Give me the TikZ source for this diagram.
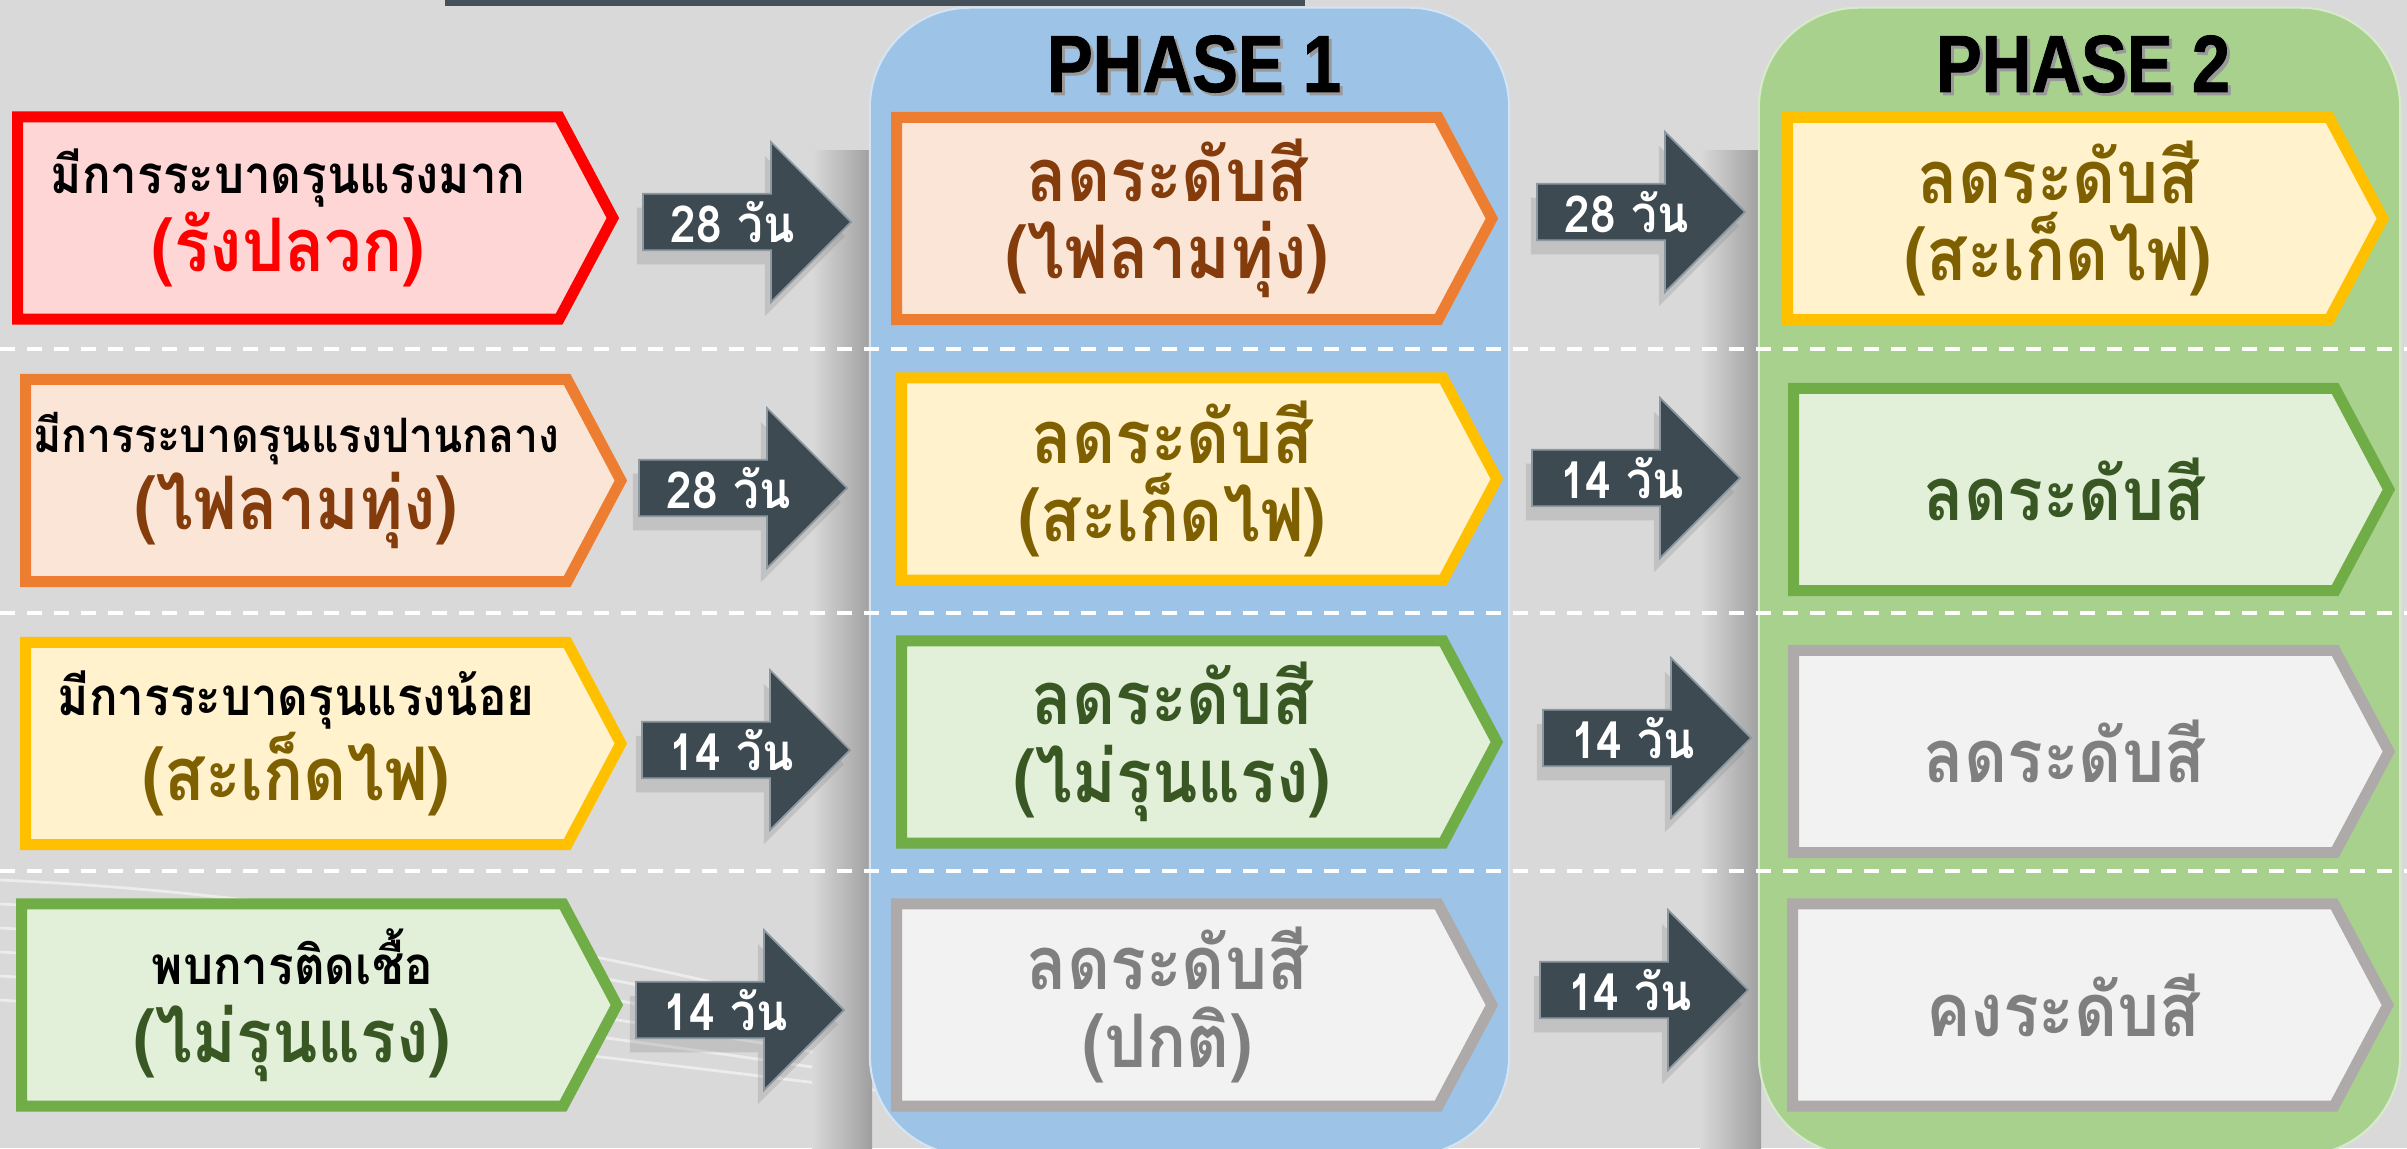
\documentclass[tikz,border=0pt]{standalone}
\usepackage{fontspec}
\usetikzlibrary{shapes.symbols,shapes.arrows,shadows}
\newfontfamily\thaifont[Script=Thai, FakeStretch=0.9]{Loma}
\newfontfamily\phasefont[FakeStretch=0.85, FakeBold=1]{Liberation Sans}

\definecolor{bggray}{HTML}{D9D9D9}
\definecolor{topbar}{HTML}{44505A}
\definecolor{panelblue}{HTML}{9DC3E6}
\definecolor{panelgreen}{HTML}{A9D18E}
\definecolor{redline}{HTML}{FF0000}
\definecolor{redfill}{HTML}{FFD6D6}
\definecolor{orangeline}{HTML}{ED7D31}
\definecolor{orangefill}{HTML}{FBE5D6}
\definecolor{orangetext}{HTML}{843C0C}
\definecolor{yellowline}{HTML}{FFC000}
\definecolor{yellowfill}{HTML}{FFF2CC}
\definecolor{yellowtext}{HTML}{7F6000}
\definecolor{greenline}{HTML}{70AD47}
\definecolor{greenfill}{HTML}{E2F0D9}
\definecolor{greentext}{HTML}{385723}
\definecolor{grayline}{HTML}{AEAAAA}
\definecolor{grayfill}{HTML}{F2F2F2}
\definecolor{graytext}{HTML}{7F7F7F}
\definecolor{arrowbody}{HTML}{3D4A51}
\definecolor{arrowedge}{HTML}{8C99A0}

\tikzset{
  panel/.style={rectangle, rounded corners=1cm, minimum height=11.47cm, line width=0.6pt},
  title/.style={font=\phasefont\bfseries\fontsize{23}{26}\selectfont, inner sep=0pt},
  sep/.style={white, line width=0.04cm, dash pattern=on 0.15cm off 0.12cm},
  stage/.style={shape=signal, signal to=east, signal pointer angle=124, anchor=west,
    line width=0.11cm, minimum width=5.95cm, minimum height=2.02cm,
    inner sep=0pt, align=center, font=\thaifont\bfseries\fontsize{21}{22}\selectfont},
  redstage/.style={stage, draw=redline, fill=redfill, text=redline},
  orangestage/.style={stage, draw=orangeline, fill=orangefill, text=orangetext},
  yellowstage/.style={stage, draw=yellowline, fill=yellowfill, text=yellowtext},
  greenstage/.style={stage, draw=greenline, fill=greenfill, text=greentext},
  graystage/.style={stage, draw=grayline, fill=grayfill, text=graytext},
  days/.style={shape=single arrow, single arrow head extend=0.395cm,
    minimum height=2.08cm, minimum width=1.6cm, inner sep=0pt, anchor=tail,
    fill=arrowbody, draw=arrowedge, line width=0.5pt, text=white,
    font=\thaifont\bfseries\fontsize{14.5}{16}\selectfont,
    drop shadow={shadow xshift=-0.06cm, shadow yshift=-0.14cm, opacity=0.25}},
}
\newcommand{\smallline}[2]{{\fontsize{#1}{16}\selectfont\color{black}#2}}

\begin{document}
\begin{tikzpicture}[x=0.01cm, y=-0.01cm]
    \useasboundingbox (0,0) rectangle (2407,1148);
    % background and swooshes
    \fill[bggray] (0,0) rectangle (2407,1148);
    \foreach \k in {0,...,5}
        \draw[white, opacity=0.5, line width=0.8pt] (0,880+24*\k) .. controls (450,900+26*\k) and (850,1010+16*\k) .. (1350,1148);
    \fill[topbar] (445,0) rectangle (1305,6);

    % shadows left of the panels
    \shade[left color=bggray, right color=black!38] (812,150) rectangle (872,1148);
    \shade[left color=bggray, right color=black!38] (1700,150) rectangle (1761,1148);

    % phase panels
    \node[panel, fill=panelblue, draw=white!55!panelblue, minimum width=6.39cm] (panelA) at (1189.5,581.5) {};
    \node[panel, fill=panelgreen, draw=white!55!panelgreen, minimum width=6.41cm] (panelB) at (2079.5,581.5) {};

    \node[title, text=black!40] (titleAs) at (1197,67) {PHASE 1};
    \node[title] (titleA) at (1194,64) {PHASE 1};
    \node[title, text=black!40] (titleBs) at (2086,67) {PHASE 2};
    \node[title] (titleB) at (2083,64) {PHASE 2};

    % row separators
    \foreach \y in {349,613,871}
        \draw[sep] (0,\y) -- (2407,\y);

    % severity column
    \node[redstage] (sev1) at (12,218) {\smallline{15}{มีการระบาดรุนแรงมาก}\\(รังปลวก)};
    \node[orangestage] (sev2) at (20,480.5) {\smallline{13.5}{มีการระบาดรุนแรงปานกลาง}\\(ไฟลามทุ่ง)};
    \node[yellowstage] (sev3) at (20,743.5) {\smallline{15}{มีการระบาดรุนแรงน้อย}\\(สะเก็ดไฟ)};
    \node[greenstage] (sev4) at (16,1005) {\smallline{15}{พบการติดเชื้อ}\\(ไม่รุนแรง)};

    % phase 1
    \node[orangestage] (pa1) at (891,218.5) {ลดระดับสี\\(ไฟลามทุ่ง)};
    \node[yellowstage] (pa2) at (896,479) {ลดระดับสี\\(สะเก็ดไฟ)};
    \node[greenstage] (pa3) at (896,742) {ลดระดับสี\\(ไม่รุนแรง)};
    \node[graystage] (pa4) at (891,1005) {ลดระดับสี\\(ปกติ)};

    % phase 2
    \node[yellowstage] (pb1) at (1782,218.5) {ลดระดับสี\\(สะเก็ดไฟ)};
    \node[greenstage] (pb2) at (1788,489.5) {ลดระดับสี};
    \node[graystage] (pb3) at (1788,751.5) {ลดระดับสี};
    \node[graystage] (pb4) at (1787,1005) {คงระดับสี};

    % day arrows
    \node[days] (da1) at (642,222) {28 วัน};
    \node[days] (da2) at (638,488) {28 วัน};
    \node[days] (da3) at (641,750) {14 วัน};
    \node[days] (da4) at (635,1010) {14 วัน};
    \node[days] (db1) at (1536,212) {28 วัน};
    \node[days] (db2) at (1531,478) {14 วัน};
    \node[days] (db3) at (1542,738) {14 วัน};
    \node[days] (db4) at (1539,990) {14 วัน};
\end{tikzpicture}
\end{document}
